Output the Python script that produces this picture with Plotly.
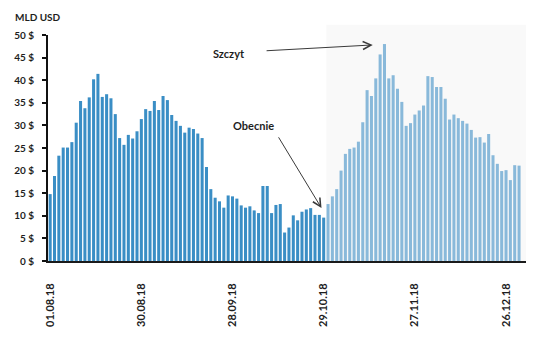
import pandas as pd
import plotly.graph_objects as go

# Trading days from 1 Aug to 31 Dec 2018, labelled dd.mm.yy
days = [d.strftime("%d.%m.%y") for d in pd.bdate_range("2018-08-01", "2018-12-31")]

# Values up to "now" (29.10.18), in billions of USD
current_values = [
    14.8, 18.8, 23.3, 25.1, 25.1, 26.3, 30.6, 35.4, 33.8, 36.2,
    40.2, 41.4, 36.3, 36.9, 36.0, 32.5, 27.2, 25.7, 27.9, 27.1,
    28.7, 31.4, 33.6, 33.2, 35.4, 33.4, 36.5, 35.6, 32.3, 31.0,
    29.9, 28.4, 29.5, 29.2, 28.2, 27.2, 20.8, 15.9, 14.0, 13.2,
    11.8, 14.5, 14.3, 13.8, 12.3, 11.8, 12.1, 11.2, 10.6, 16.6,
    16.6, 10.6, 12.4, 12.6, 6.3, 7.4, 10.1, 9.0, 10.9, 11.4,
    11.7, 10.2, 10.2, 9.6,
]

# Values for the remaining period (shaded part)
later_values = [
    12.6, 14.3, 15.9, 20.0, 23.7, 24.8, 25.1, 26.4, 30.7, 37.8,
    36.5, 40.4, 45.7, 48.0, 40.4, 41.1, 38.1, 35.2, 29.9, 30.5,
    32.4, 33.3, 34.4, 40.9, 40.7, 38.5, 38.5, 35.9, 31.3, 32.4,
    31.6, 31.0, 30.4, 29.0, 27.3, 27.4, 26.2, 28.1, 23.4, 21.5,
    19.9, 20.1, 17.9, 21.2, 21.1,
]

tick_labels = ["01.08.18", "30.08.18", "28.09.18", "29.10.18", "27.11.18", "26.12.18"]
y_ticks = [0, 5, 10, 15, 20, 25, 30, 35, 40, 45, 50]

n_cur = len(current_values)
x_cur = days[:n_cur]
x_later = days[n_cur:n_cur + len(later_values)]

FONT = "Lato"
TXT = "#1e1e1e"

fig = go.Figure()
fig.add_trace(go.Bar(x=x_cur, y=current_values, marker_color="#3a8ec5",
                     marker_line_width=0, hoverinfo="x+y"))
fig.add_trace(go.Bar(x=x_later, y=later_values, marker_color="#89b9da",
                     marker_line_width=0, hoverinfo="x+y"))

# light background behind the later period
fig.add_shape(type="rect", xref="x", yref="paper",
              x0=n_cur - 0.4, x1=len(days) + 0.6, y0=0, y1=1.045,
              fillcolor="#f9f9f9", line_width=0, layer="below")

# annotations
fig.add_annotation(x=41.1, y=45.8, xref="x", yref="y", text="<b>Szczyt</b>",
                   showarrow=False, font=dict(family=FONT, size=11, color=TXT))
fig.add_annotation(x=74.3, y=47.8, ax=49.5, ay=46.5, xref="x", yref="y",
                   axref="x", ayref="y", text="", showarrow=True,
                   arrowhead=5, arrowsize=1.6, arrowwidth=1, arrowcolor="#3a3a3a")
fig.add_annotation(x=46.8, y=30.0, xref="x", yref="y", text="<b>Obecnie</b>",
                   showarrow=False, font=dict(family=FONT, size=11, color=TXT))
fig.add_annotation(x=62.5, y=11.7, ax=52.4, ay=27.7, xref="x", yref="y",
                   axref="x", ayref="y", text="", showarrow=True,
                   arrowhead=5, arrowsize=1.6, arrowwidth=1, arrowcolor="#3a3a3a")
# unit title above the value axis
fig.add_annotation(x=(37.5 - 48) / 478, y=1 + (35 - 17) / 226,
                   xref="paper", yref="paper", text="<b>MLD USD</b>",
                   xanchor="center", yanchor="middle", showarrow=False,
                   font=dict(family=FONT, size=10, color=TXT))

fig.update_layout(
    width=536, height=347,
    margin=dict(l=48, r=10, t=35, b=86),
    paper_bgcolor="white", plot_bgcolor="rgba(0,0,0,0)",
    barmode="overlay", bargap=0.3, showlegend=False,
    font=dict(family=FONT, color=TXT),
)
fig.update_xaxes(
    type="category", categoryorder="array", categoryarray=days,
    range=[-0.5, len(days) + 0.6],
    tickmode="array", tickvals=tick_labels, ticktext=tick_labels,
    tickangle=-90, tickfont=dict(family=FONT, size=11, color=TXT, weight="bold"),
    ticks="", ticklabelstandoff=16,
    showline=True, linecolor="#1a1a1a", linewidth=2, showgrid=False, zeroline=False,
)
fig.update_yaxes(
    range=[0, 50], tickmode="array", tickvals=y_ticks,
    ticktext=[f"{v} $" for v in y_ticks],
    tickfont=dict(family=FONT, size=10, color=TXT, weight="bold"),
    ticks="outside", ticklen=4, tickwidth=1.5, tickcolor="#111",
    ticklabelstandoff=6,
    showline=True, linecolor="#111", linewidth=2, showgrid=False, zeroline=False,
)

fig.write_html("out.html")
